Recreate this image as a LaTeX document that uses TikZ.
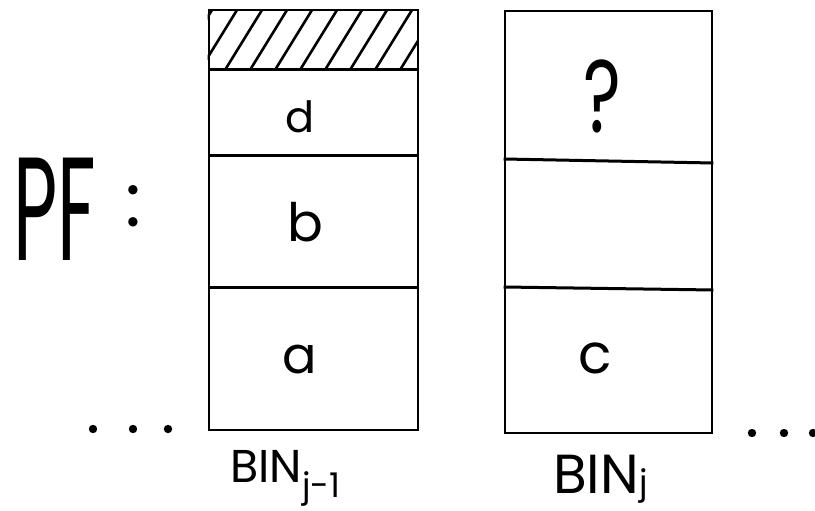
\documentclass[tikz,border=0pt]{standalone}
\usepackage{fontspec}
\setmainfont{Poppins}
\begin{document}
\begin{tikzpicture}[x=1pt,y=-1pt,
  binbox/.style={draw, line width=2.6pt, rectangle, inner sep=0pt},
  divline/.style={line width=3pt},
  hatchline/.style={line width=2.6pt},
  lbl/.style={inner sep=0pt, anchor=base},
  dotmark/.style={fill=black, draw=none}]
\useasboundingbox (0,0) rectangle (815,511);
% bins
\node[binbox, minimum width=209pt, minimum height=420pt] (binA) at (313.5,220) {};
\node[binbox, minimum width=207pt, minimum height=422pt] (binB) at (608.5,222) {};
% hatched top of left bin
\coordinate (hA1) at (209,70);
\coordinate (hA2) at (418,70);
\begin{scope}
  \clip (binA.north west) rectangle (hA2);
  \foreach \k in {-2,...,8} \draw[hatchline] (225+25*\k,70) -- ++(37,-60);
\end{scope}
\draw[divline] (hA1) -- (hA2);
% dividers
\draw[divline] (binA.west |- 0,155) -- (binA.east |- 0,155);
\draw[divline] (binA.west |- 0,287) -- (binA.east |- 0,287);
\draw[divline] (binB.west |- 0,159) -- (binB.east |- 0,163);
\draw[divline] (binB.west |- 0,287) -- (binB.east |- 0,290);
% labels
\node[lbl, anchor=base west, xscale=0.52] (pf) at (13,260) {\fontsize{147}{147}\selectfont PF};
\node[lbl] (colon) at (133,226) {\fontsize{75}{75}\selectfont :};
\node[lbl] (d) at (300,132) {\fontsize{43}{43}\selectfont d};
\node[lbl] (b) at (305,241) {\fontsize{53}{53}\selectfont b};
\node[lbl] (a) at (300,373) {\fontsize{51}{51}\selectfont a};
\node[lbl, xscale=0.7] (q) at (602,132) {\fontsize{103}{103}\selectfont ?};
\node[lbl] (c) at (595,373) {\fontsize{55}{55}\selectfont c};
\node[lbl, anchor=base west] (nameA) at (230,482) {\fontsize{46}{46}\selectfont BIN\raisebox{-15pt}{\fontsize{34}{34}\selectfont j-1}};
\node[lbl, anchor=base west] (nameB) at (553,493) {\fontsize{55}{55}\selectfont BIN\raisebox{-1pt}{\fontsize{34}{34}\selectfont j}};
% dots
\foreach \xx in {93,133,168} \fill[dotmark] (\xx,429) circle (4.2);
\foreach \xx in {752,784,813} \fill[dotmark] (\xx,433) circle (4.2);
\end{tikzpicture}
\end{document}
